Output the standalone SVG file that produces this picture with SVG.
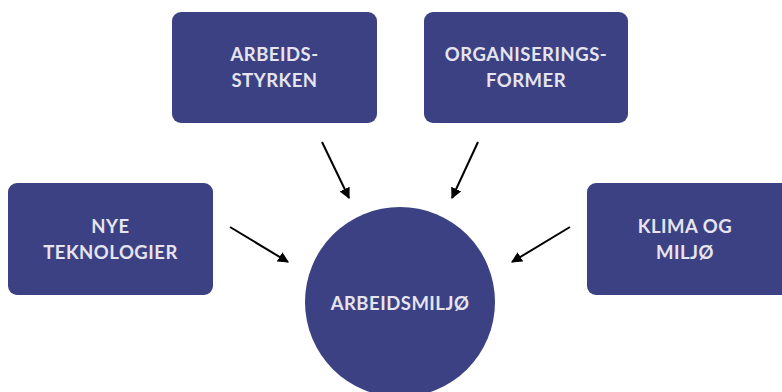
<svg xmlns="http://www.w3.org/2000/svg" width="782" height="392" viewBox="0 0 782 392">
<style>
.box{fill:#3c4184}
.lbl{font-family:Lato,"Open Sans","Liberation Sans",sans-serif;font-weight:bold;font-size:18.5px;fill:#e6e4ee;text-anchor:middle;letter-spacing:0.5px}
.con{stroke:#000;stroke-width:2;fill:none;marker-end:url(#ah)}
</style>
<defs>
<marker id="ah" viewBox="0 0 10 10" refX="9" refY="5" markerWidth="5.5" markerHeight="5.5" orient="auto" markerUnits="strokeWidth">
<path d="M0,0 L10,5 L0,10 z" fill="#000"/>
</marker>
</defs>
<rect width="782" height="392" fill="#fff"/>
<g id="arbeidsstyrken">
<rect class="box" x="172" y="12" width="205" height="111" rx="9"/>
<text class="lbl" x="274.5" y="61">ARBEIDS-</text>
<text class="lbl" x="274.5" y="87">STYRKEN</text>
</g>
<g id="organiseringsformer">
<rect class="box" x="424" y="12" width="204" height="111" rx="9"/>
<text class="lbl" x="526" y="61">ORGANISERINGS-</text>
<text class="lbl" x="526" y="87">FORMER</text>
</g>
<g id="nye-teknologier">
<rect class="box" x="8" y="183" width="205" height="112" rx="9"/>
<text class="lbl" x="110.5" y="233">NYE</text>
<text class="lbl" x="110.5" y="259">TEKNOLOGIER</text>
</g>
<g id="klima-og-miljo">
<rect class="box" x="587" y="183" width="210" height="112" rx="9"/>
<text class="lbl" x="685" y="233">KLIMA OG</text>
<text class="lbl" x="685" y="259">MILJØ</text>
</g>
<g id="arbeidsmiljo">
<circle class="box" cx="400" cy="302" r="95"/>
<text class="lbl" x="400" y="310">ARBEIDSMILJØ</text>
</g>
<g id="connectors">
<line class="con" x1="322" y1="142" x2="349" y2="198"/>
<line class="con" x1="478" y1="142" x2="452" y2="198"/>
<line class="con" x1="230" y1="227" x2="288" y2="262"/>
<line class="con" x1="570" y1="227" x2="512" y2="262"/>
</g>
</svg>
